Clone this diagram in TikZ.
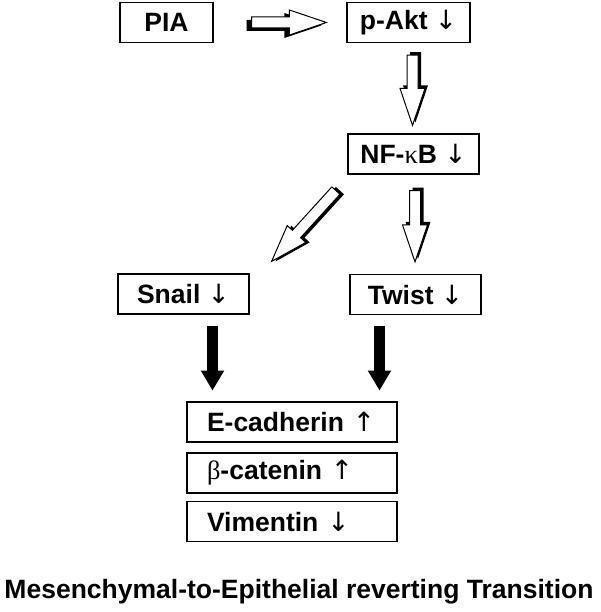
\documentclass[tikz,border=0pt]{standalone}
\usepackage{fontspec}
\setmainfont{Liberation Sans}
\newfontfamily\greekfont{Liberation Serif}
\newfontfamily\arrowfont{DejaVu Sans}
\usetikzlibrary{calc}
\usetikzlibrary{arrows.meta}

\newcommand{\dn}{{\arrowfont\mdseries ↓}}
\newcommand{\upa}{{\arrowfont\mdseries ↑}}
\newcommand{\gr}[1]{{\greekfont\mdseries #1}}

% body of a block arrow, from tail #1 to tip #2
\newcommand{\arrowbody}[3]{%
  \path ($(#2)!37pt!(#1)$) coordinate (hb);
  \path[#3] ($(#1)!5.5pt!90:(#2)$) -- ($(hb)!5.5pt!90:(#2)$)
    -- ($(hb)!12.5pt!90:(#2)$) -- (#2) -- ($(hb)!12.5pt!-90:(#2)$)
    -- ($(hb)!5.5pt!-90:(#2)$) -- ($(#1)!5.5pt!-90:(#2)$) -- cycle;
}
% hollow arrow with a black shadow shifted by #3
\newcommand{\hollowarrow}[3]{%
  \path ($(#1)+(#3)$) coordinate (st) ($(#2)+(#3)$) coordinate (se);
  \arrowbody{st}{se}{fill = black}
  \arrowbody{#1}{#2}{draw, fill = white, line width = 1pt}
}

\tikzset{
  box/.style = {draw, line width = 1.2pt, minimum height = 40pt, inner sep = 0pt,
    font = \fontsize{26.5}{30}\selectfont\bfseries},
  list/.style = {box, minimum width = 210pt, text width = 170pt, align = left},
  fat/.style = {line width = 11pt, -{Triangle[length = 20pt, width = 22pt]}},
}

\begin{document}
\begin{tikzpicture}[x = 1pt, y = -1pt]
  \useasboundingbox (0, 0) rectangle (600, 612);

  \node[box, minimum width = 93pt] (pia) at (166.5, 22.5) {PIA};
  \node[box, minimum width = 123pt] (pakt) at (408.5, 22.5) {p-Akt \dn};
  \node[box, minimum width = 131pt] (nfkb) at (413.5, 154) {NF-\gr{κ}B \dn};
  \node[box, minimum width = 131pt] (snail) at (183.5, 294) {Snail \dn};
  \node[box, minimum width = 131pt] (twist) at (415.5, 294.5) {Twist \dn};

  \node[list] (ecad) at (292, 422) {E-cadherin \upa};
  \node[list] (bcat) at (292, 473) {\gr{β}-catenin \upa};
  \node[list] (vim) at (292, 521.5) {Vimentin \dn};

  \node[font = \fontsize{26.5}{30}\selectfont\bfseries] (met) at (299, 592)
    {Mesenchymal-to-Epithelial reverting Transition};

  % hollow arrows
  \coordinate (a1) at ($(pia.east) + (38, 0)$);
  \coordinate (b1) at ($(pakt.west) + (-20, 0)$);
  \hollowarrow{a1}{b1}{-5, 3}
  \coordinate (a2) at ($(pakt.south) + (4, 12)$);
  \coordinate (b2) at ($(nfkb.north) + (-1, -8)$);
  \hollowarrow{a2}{b2}{3, -3}
  \coordinate (a3) at ($(nfkb.south) + (1.5, 16)$);
  \coordinate (b3) at ($(twist.north) + (-0.5, -12)$);
  \hollowarrow{a3}{b3}{3, -3}
  \coordinate (a4) at ($(nfkb.south west) + (-11.5, 16)$);
  \coordinate (b4) at ($(snail.north east) + (22, -12)$);
  \hollowarrow{a4}{b4}{4, 0}

  % solid arrows
  \draw[fat] ($(snail.south) + (29, 11)$) -- ++(0, 65);
  \draw[fat] ($(twist.south) + (-36, 10.5)$) -- ++(0, 65);
\end{tikzpicture}
\end{document}
